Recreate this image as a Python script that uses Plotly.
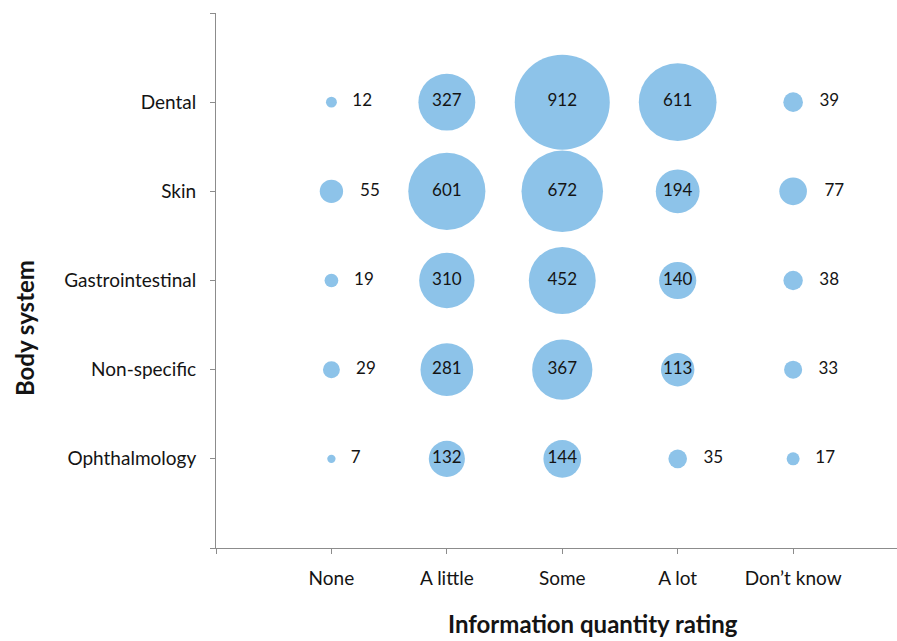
import plotly.graph_objects as go

systems = ["Ophthalmology", "Non-specific", "Gastrointestinal", "Skin", "Dental"]
ratings = ["None", "A little", "Some", "A lot", "Don’t know"]

values = {
    "Dental":           [12, 327, 912, 611, 39],
    "Skin":             [55, 601, 672, 194, 77],
    "Gastrointestinal": [19, 310, 452, 140, 38],
    "Non-specific":     [29, 281, 367, 113, 33],
    "Ophthalmology":    [7, 132, 144, 35, 17],
}

x_title = "Information quantity rating"
y_title = "Body system"

FONT = "Lato, Open Sans, sans-serif"
BLUE = "rgb(141,195,233)"
TXT = "#141414"
MAX_D = 95

xs, ys, sizes, texts, pos = [], [], [], [], []
for yi, s in enumerate(systems, start=1):
    for xi, v in enumerate(values[s], start=1):
        xs.append(xi)
        ys.append(yi)
        sizes.append(v)
        if v >= 100:
            texts.append(str(v))
            pos.append("middle center")
        else:
            texts.append("\u00a0\u00a0\u00a0" + str(v))
            pos.append("middle right")

maxv = max(sizes)
fig = go.Figure(go.Scatter(
    x=xs, y=ys, mode="markers+text",
    text=texts, textposition=pos,
    textfont=dict(family=FONT, size=17, color=TXT),
    marker=dict(size=sizes, sizemode="area", sizeref=2 * maxv / MAX_D ** 2,
                color=BLUE, line=dict(width=0), opacity=1),
    cliponaxis=False, hoverinfo="skip",
))

fig.update_layout(
    width=897, height=641,
    margin=dict(l=216, r=0, t=13, b=93, autoexpand=False),
    paper_bgcolor="white", plot_bgcolor="white",
    showlegend=False,
    font=dict(family=FONT, size=19, color=TXT),
    annotations=[
        dict(text=f"<b>{x_title}</b>", xref="paper", yref="paper", x=0.5536, y=-0.142,
             xanchor="center", yanchor="middle", showarrow=False,
             font=dict(family=FONT, size=24, color=TXT)),
        dict(text=f"<b>{y_title}</b>", xref="paper", yref="paper", x=-0.282, y=0.411,
             xanchor="center", yanchor="middle", showarrow=False, textangle=-90,
             font=dict(family=FONT, size=24, color=TXT)),
    ],
)
fig.update_xaxes(
    range=[0, 5.9], tickvals=[0, 1, 2, 3, 4, 5], ticktext=[""] + ratings,
    showgrid=False, zeroline=False, showline=True, linecolor="#8c8c8c", linewidth=1,
    ticks="outside", ticklen=5, tickcolor="#8c8c8c", ticklabelstandoff=8,
    tickfont=dict(family=FONT, size=19, color=TXT), automargin=False,
)
fig.update_yaxes(
    range=[0, 6], tickvals=[0, 1, 2, 3, 4, 5, 6], ticktext=[""] + systems + [""],
    showgrid=False, zeroline=False, showline=True, linecolor="#8c8c8c", linewidth=1,
    ticks="outside", ticklen=5, tickcolor="#8c8c8c", ticklabelstandoff=10,
    tickfont=dict(family=FONT, size=19, color=TXT), automargin=False,
)

fig.write_html("out.html", config={"displayModeBar": False},
               post_script="document.body.style.margin='0';document.body.style.overflow='hidden';")
